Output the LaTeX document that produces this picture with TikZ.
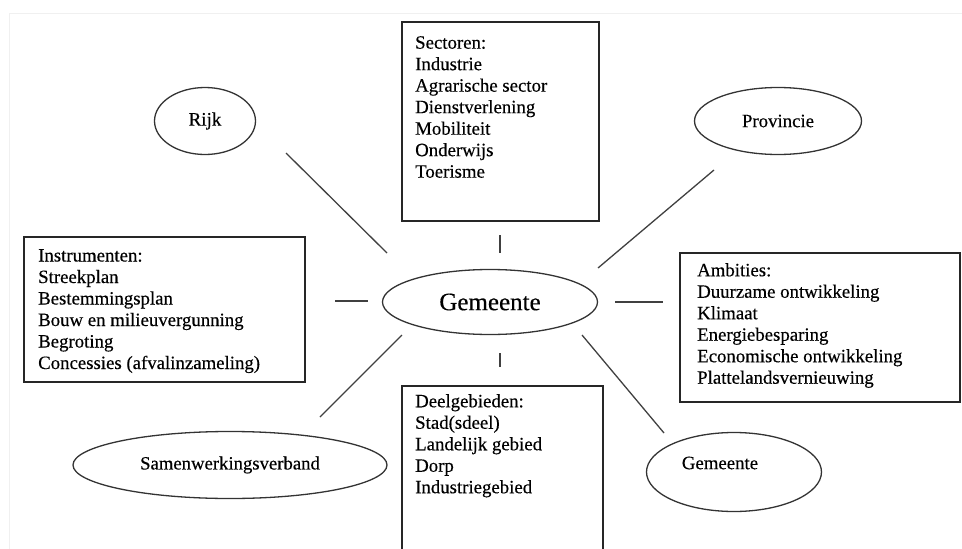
\documentclass[tikz,border=0pt]{standalone}
\usepackage{fontspec}
\setmainfont{Liberation Serif}[FakeBold=0.35]
\usetikzlibrary{shapes.geometric}
\begin{document}
\begin{tikzpicture}[x=1pt,y=-1pt,
  box/.style={draw=black!85,line width=1.5pt,rectangle,inner sep=0pt,anchor=north west},
  oval/.style={draw=black!80,line width=1.3pt,ellipse,inner sep=0pt},
  txt/.style={font=\fontsize{18.8}{21.5}\selectfont,align=left,inner sep=0pt,anchor=north west,text=black},
  otxt/.style={font=\fontsize{18.8}{21.5}\selectfont,inner sep=0pt,text=black},
  link/.style={draw=black!75,line width=1.3pt}]
\useasboundingbox (0,0) rectangle (962,549);
\clip (0,0) rectangle (962,549);
\draw[black!6,line width=0.8pt] (9,549) -- (9,13) -- (962,13);

% boxes
\node[box,minimum width=197pt,minimum height=199pt] (sect) at (401,21) {};
\node[box,minimum width=281pt,minimum height=145pt] (instr) at (23,236) {};
\node[box,minimum width=280pt,minimum height=149pt] (amb) at (679,252) {};
\node[box,minimum width=201pt,minimum height=200pt] (deel) at (401,385) {};

\node[txt] (sectt) at (415,36) {Sectoren:\\Industrie\\Agrarische sector\\Dienstverlening\\Mobiliteit\\Onderwijs\\Toerisme};
\node[txt] (instrt) at (38,249) {Instrumenten:\\Streekplan\\Bestemmingsplan\\Bouw en milieuvergunning\\Begroting\\Concessies (afvalinzameling)};
\node[txt] (ambt) at (697,263) {Ambities:\\Duurzame ontwikkeling\\Klimaat\\Energiebesparing\\Economische ontwikkeling\\Plattelandsvernieuwing};
\node[txt] (deelt) at (415,394) {Deelgebieden:\\Stad(sdeel)\\Landelijk gebied\\Dorp\\Industriegebied};

% ellipses
\node[oval,minimum width=101pt,minimum height=67pt,font=\fontsize{19}{22}\selectfont] (rijk) at (205,121) {Rijk};
\node[oval,minimum width=167pt,minimum height=67pt,font=\fontsize{18.8}{22}\selectfont] (prov) at (778,121) {Provincie};
\node[oval,minimum width=215pt,minimum height=65pt,font=\fontsize{25}{28}\selectfont] (gem) at (490,302) {Gemeente};
\node[oval,minimum width=314pt,minimum height=67pt,font=\fontsize{18.7}{22}\selectfont] (samen) at (230,465) {Samenwerkingsverband};
\node[oval,minimum width=175pt,minimum height=79pt] (gem2) at (734,472) {};
\node[otxt] (gem2t) at (720,463) {Gemeente};

% connector ends
\coordinate (a1) at (286,153); \coordinate (b1) at (387,253);
\coordinate (a2) at (714,170); \coordinate (b2) at (598,268);
\coordinate (a3) at (500,235); \coordinate (b3) at (500,253);
\coordinate (a4) at (335,301); \coordinate (b4) at (368,301);
\coordinate (a5) at (615,302); \coordinate (b5) at (663,302);
\coordinate (a6) at (500,353); \coordinate (b6) at (500,367);
\coordinate (a7) at (402,335); \coordinate (b7) at (320,417);
\coordinate (a8) at (582,335); \coordinate (b8) at (664,433);

\draw[link] (a1) -- (b1);
\draw[link] (a2) -- (b2);
\draw[link,line width=1.6pt] (a3) -- (b3);
\draw[link] (a4) -- (b4);
\draw[link,line width=1.6pt] (a5) -- (b5);
\draw[link,line width=1.6pt] (a6) -- (b6);
\draw[link] (a7) -- (b7);
\draw[link] (a8) -- (b8);
\end{tikzpicture}
\end{document}
